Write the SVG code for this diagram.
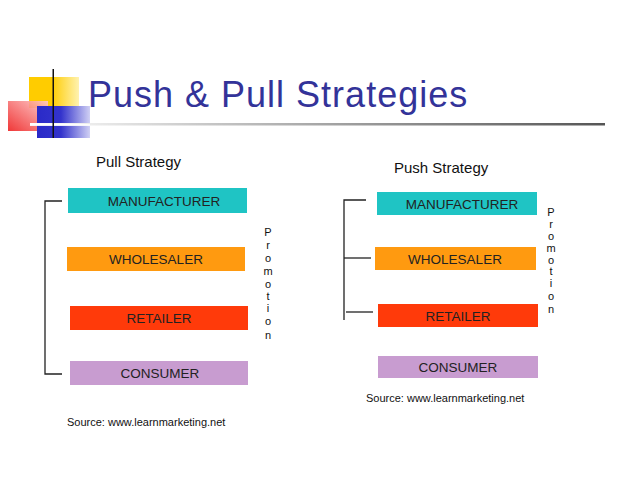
<svg xmlns="http://www.w3.org/2000/svg" width="638" height="479" viewBox="0 0 638 479">
<defs>
<linearGradient id="yg" x1="0" x2="1"><stop offset="0" stop-color="#ffcc00"/><stop offset="0.45" stop-color="#ffcc00"/><stop offset="1" stop-color="#fff2b0"/></linearGradient>
<linearGradient id="rg" x1="0" y1="1" x2="1" y2="0"><stop offset="0" stop-color="#ee2222"/><stop offset="1" stop-color="#ffc8c8"/></linearGradient>
<linearGradient id="bg" x1="0" x2="1"><stop offset="0" stop-color="#2a2ac8"/><stop offset="0.45" stop-color="#3333cc"/><stop offset="1" stop-color="#d0d0f4"/></linearGradient>
<linearGradient id="lg" x1="0" x2="1"><stop offset="0" stop-color="#ffffff"/><stop offset="0.3" stop-color="#c8c8c8"/><stop offset="1" stop-color="#555"/></linearGradient>
</defs>
<style>
.box text{font-family:"Liberation Sans",Arial,sans-serif;font-size:13.5px;fill:#222;text-anchor:middle}
.hd{font-family:"Liberation Sans",Arial,sans-serif;font-size:15px;fill:#111}
.src{font-family:"Liberation Sans",Arial,sans-serif;font-size:11px;fill:#111}
.promo{font-family:"Liberation Sans",Arial,sans-serif;font-size:11px;fill:#111;text-anchor:middle}
#connectors path{stroke:#222;stroke-width:1.3;fill:none}
</style>
<rect width="638" height="479" fill="#fff"/>
<g id="decor">
<rect x="29" y="77" width="50" height="31" fill="url(#yg)"/>
<rect x="8" y="101" width="40" height="30" fill="url(#rg)" opacity="0.9"/>
<rect x="37" y="106" width="53" height="32" fill="url(#bg)"/>
<rect x="30" y="123" width="575" height="2.5" fill="url(#lg)"/>
<rect x="30" y="124" width="60" height="2" fill="#fff" opacity="0.8"/>
<rect x="52.5" y="69" width="1.5" height="69" fill="#111"/>
</g>
<text x="88" y="107" font-family="Liberation Sans,Arial,sans-serif" font-size="36" fill="#333399" letter-spacing="1">Push &amp; Pull Strategies</text>
<text class="hd" x="96" y="167">Pull Strategy</text>
<text class="hd" x="394" y="173">Push Strategy</text>
<g id="pull-manufacturer" class="box"><rect x="68" y="188" width="179" height="25" fill="#1fc4c4"/><text x="164" y="205.5">MANUFACTURER</text></g>
<g id="pull-wholesaler" class="box"><rect x="67" y="247" width="178" height="24" fill="#ff9a10"/><text x="156" y="264">WHOLESALER</text></g>
<g id="pull-retailer" class="box"><rect x="70" y="306" width="178" height="24" fill="#ff3a0a"/><text x="159" y="323">RETAILER</text></g>
<g id="pull-consumer" class="box"><rect x="70" y="361" width="178" height="24" fill="#c89cd0"/><text x="160" y="378">CONSUMER</text></g>
<g id="push-manufacturer" class="box"><rect x="377" y="192" width="160" height="23" fill="#1fc4c4"/><text x="462" y="208.5">MANUFACTURER</text></g>
<g id="push-wholesaler" class="box"><rect x="375" y="247" width="161" height="23" fill="#ff9a10"/><text x="455" y="263.5">WHOLESALER</text></g>
<g id="push-retailer" class="box"><rect x="378" y="304" width="160" height="23" fill="#ff3a0a"/><text x="458" y="320.5">RETAILER</text></g>
<g id="push-consumer" class="box"><rect x="378" y="356" width="160" height="22" fill="#c89cd0"/><text x="458" y="371.5">CONSUMER</text></g>
<g id="connectors">
<path d="M62 201 H45 V374 H62"/>
<path d="M366 200 H344 V320"/>
<path d="M344 258 H371"/>
<path d="M346 312 H373"/>
</g>
<g id="promo-left" class="promo">
<text x="268" y="236">P</text><text x="268" y="249">r</text><text x="268" y="262">o</text><text x="268" y="275">m</text><text x="268" y="288">o</text><text x="268" y="300">t</text><text x="268" y="312">i</text><text x="268" y="325">o</text><text x="268" y="339">n</text>
</g>
<g id="promo-right" class="promo">
<text x="551" y="216">P</text><text x="551" y="228">r</text><text x="551" y="240">o</text><text x="551" y="252">m</text><text x="551" y="264">o</text><text x="551" y="275">t</text><text x="551" y="287">i</text><text x="551" y="300">o</text><text x="551" y="313">n</text>
</g>
<text class="src" x="67" y="426">Source: www.learnmarketing.net</text>
<text class="src" x="366" y="402">Source: www.learnmarketing.net</text>
</svg>
